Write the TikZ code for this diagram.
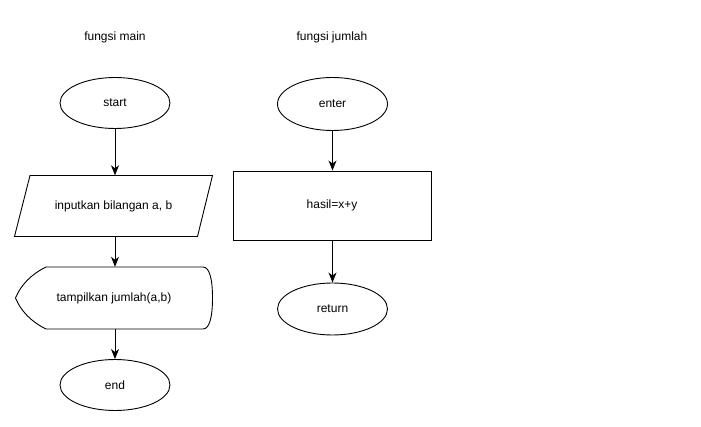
\documentclass[tikz,border=0pt]{standalone}
\usepackage{fontspec}
\setmainfont{Liberation Sans}
\usetikzlibrary{shapes.geometric,arrows.meta,calc}
\begin{document}
\begin{tikzpicture}[x=1pt,y=-1pt,
  every node/.style={font=\fontsize{12}{14}\selectfont},
  term/.style={draw,ellipse,line width=0.9pt,minimum width=110pt,minimum height=51pt,inner sep=0pt},
  procbox/.style={draw,rectangle,line width=0.9pt,minimum width=198pt,minimum height=69pt,inner sep=0pt},
  plain/.style={rectangle,inner sep=0pt},
  shapeline/.style={line width=0.9pt,line join=miter},
  arr/.style={line width=0.9pt,-{Stealth[length=10pt,width=8pt,inset=3pt]}}]
\useasboundingbox[fill=white] (0,0) rectangle (701,427);

% titles
\node[plain] (t1) at (115,37) {fungsi main};
\node[plain] (t2) at (332,37) {fungsi jumlah};

% main
\node[term] (start) at (115,103) {start};
\node[plain,minimum width=198pt,minimum height=61pt] (par) at (113.5,206) {inputkan bilangan a, b};
\draw[shapeline] (30,175.5) -- (212.5,175.5) -- (197.5,236.5) -- (14.5,236.5) -- cycle;
\node[plain,minimum width=197pt,minimum height=62pt] (disp) at (114,298) {tampilkan jumlah(a,b)};
\draw[shapeline] (15.5,298) .. controls (21,284.7) and (31.3,274.3) .. (46,267)
  -- (203,267) .. controls (209,267) and (212.5,277.3) .. (212.5,298)
  .. controls (212.5,318.7) and (209,329) .. (203,329)
  -- (46,329) .. controls (31.3,321.7) and (21,311.3) .. (15.5,298) -- cycle;
\node[term] (end) at (115,385) {end};

\draw[arr] (start.south) -- (start.south |- par.north);
\draw[arr] (start.south |- par.south) -- (start.south |- disp.north);
\draw[arr] (start.south |- disp.south) -- (end.north);

% jumlah
\node[term,minimum height=53pt] (enter) at (332.5,104) {enter};
\node[procbox] (calc) at (332,205.5) {hasil=x+y};
\node[term,minimum height=52pt] (ret) at (332.5,309) {return};
\draw[arr] (enter.south) -- (enter.south |- calc.north);
\draw[arr] (enter.south |- calc.south) -- (ret.north);
\end{tikzpicture}
\end{document}
